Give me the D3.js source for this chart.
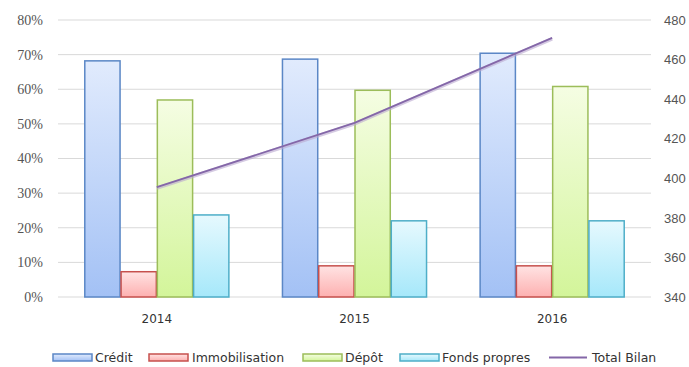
<!DOCTYPE html>
<html>
<head>
<meta charset="utf-8">
<script src="https://cdn.jsdelivr.net/npm/d3@7/dist/d3.min.js"></script>
<style>
  html, body { margin: 0; padding: 0; background: #fff; }
  svg { display: block; }
</style>
</head>
<body>
<svg id="chart" width="689" height="367"></svg>
<script>
// Années et séries (parts en % du bilan) ; Total Bilan sur l'axe de droite
const years = ["2014", "2015", "2016"];
const series = ["Crédit", "Immobilisation", "Dépôt", "Fonds propres"];
const credit = [68.2, 68.7, 70.4];
const immobilisation = [7.3, 9.0, 9.0];
const depot = [56.9, 59.7, 60.8];
const fondsPropres = [23.7, 22.0, 22.0];
const totalBilan = [395.5, 428, 471];
const leftTicks = [0, 10, 20, 30, 40, 50, 60, 70, 80];
const rightTicks = [340, 360, 380, 400, 420, 440, 460, 480];

const seriesValues = [credit, immobilisation, depot, fondsPropres];

const svg = d3.select("#chart");
const plot = { left: 58, right: 651, top: 20, bottom: 297 };

const x0 = d3.scaleBand().domain(years).range([plot.left, plot.right]).padding(0);
const bw = x0.bandwidth();
const x1 = d3.scaleBand().domain(series).range([bw * 0.133, bw * 0.867]).padding(0);
const yL = d3.scaleLinear().domain([0, 80]).range([plot.bottom, plot.top]);
const yR = d3.scaleLinear().domain([340, 480]).range([plot.bottom, plot.top]);

const styles = {
  "Crédit":         { top: "#e1ebfd", bottom: "#a3c1f5", stroke: "#5b87c6" },
  "Immobilisation": { top: "#ffe3e3", bottom: "#fdb0b0", stroke: "#c6504d" },
  "Dépôt":          { top: "#f5fde3", bottom: "#d3f59a", stroke: "#9cbd5a" },
  "Fonds propres":  { top: "#e6f9fe", bottom: "#a6e8fa", stroke: "#4eaec8" }
};

const defs = svg.append("defs");
series.forEach((s, i) => {
  const g = defs.append("linearGradient")
    .attr("id", "grad" + i).attr("x1", 0).attr("y1", 0).attr("x2", 0).attr("y2", 1);
  g.append("stop").attr("offset", "0%").attr("stop-color", styles[s].top);
  g.append("stop").attr("offset", "100%").attr("stop-color", styles[s].bottom);
});

// Grille horizontale
svg.append("g")
  .selectAll("line")
  .data(leftTicks)
  .join("line")
  .attr("x1", plot.left).attr("x2", plot.right)
  .attr("y1", d => yL(d)).attr("y2", d => yL(d))
  .attr("stroke", "#d9d9d9").attr("stroke-width", 1);

// Axe gauche (%)
const axisL = d3.axisLeft(yL).tickValues(leftTicks).tickFormat(d => d + "%").tickSize(0).tickPadding(15);
svg.append("g")
  .attr("transform", `translate(${plot.left},0)`)
  .call(axisL)
  .call(g => g.select(".domain").remove())
  .selectAll("text")
  .attr("font-family", "Liberation Serif, serif")
  .attr("font-size", 14)
  .attr("fill", "#555");

// Axe droit (Total Bilan)
const axisR = d3.axisRight(yR).tickValues(rightTicks).tickSize(0).tickPadding(13);
svg.append("g")
  .attr("transform", `translate(${plot.right},0)`)
  .call(axisR)
  .call(g => g.select(".domain").remove())
  .selectAll("text")
  .attr("font-family", "Liberation Sans, sans-serif")
  .attr("font-size", 13)
  .attr("fill", "#555");

// Axe des années
const axisB = d3.axisBottom(x0).tickSize(0).tickPadding(17);
svg.append("g")
  .attr("transform", `translate(0,${plot.bottom})`)
  .call(axisB)
  .call(g => g.select(".domain").remove())
  .selectAll("text")
  .attr("font-family", "DejaVu Sans, sans-serif")
  .attr("font-size", 12)
  .attr("fill", "#333");

// Barres
const groups = svg.append("g")
  .selectAll("g")
  .data(years)
  .join("g")
  .attr("transform", d => `translate(${x0(d)},0)`);

groups.selectAll("rect")
  .data((yr, yi) => series.map((s, si) => ({ s, si, v: seriesValues[si][yi] })))
  .join("rect")
  .attr("x", d => x1(d.s) + 0.5)
  .attr("y", d => yL(d.v))
  .attr("width", x1.bandwidth() - 1)
  .attr("height", d => plot.bottom - yL(d.v))
  .attr("fill", d => `url(#grad${d.si})`)
  .attr("stroke", d => styles[d.s].stroke)
  .attr("stroke-width", 1.5);

// Courbe Total Bilan
const line = d3.line()
  .x((d, i) => x0(years[i]) + bw / 2)
  .y(d => yR(d));

svg.append("path")
  .datum(totalBilan)
  .attr("d", line)
  .attr("fill", "none")
  .attr("stroke", "#b9a7cf")
  .attr("stroke-width", 3.5)
  .attr("opacity", 0.6)
  .attr("transform", "translate(0,1)");

svg.append("path")
  .datum(totalBilan)
  .attr("d", line)
  .attr("fill", "none")
  .attr("stroke", "#8467a8")
  .attr("stroke-width", 1.8);

// Légende
const legendItems = [
  { label: "Crédit", x: 53, tx: 95, type: "bar", si: 0 },
  { label: "Immobilisation", x: 149, tx: 192, type: "bar", si: 1 },
  { label: "Dépôt", x: 303, tx: 345, type: "bar", si: 2 },
  { label: "Fonds propres", x: 400, tx: 442, type: "bar", si: 3 },
  { label: "Total Bilan", x: 549, tx: 592, type: "line" }
];
const ly = 357.5;
const legend = svg.append("g");
legendItems.forEach(item => {
  if (item.type === "bar") {
    const s = series[item.si];
    legend.append("rect")
      .attr("x", item.x).attr("y", ly - 3.5)
      .attr("width", 39).attr("height", 7)
      .attr("fill", `url(#grad${item.si})`)
      .attr("stroke", styles[s].stroke).attr("stroke-width", 1.5);
  } else {
    legend.append("line")
      .attr("x1", item.x).attr("x2", item.x + 38)
      .attr("y1", ly).attr("y2", ly)
      .attr("stroke", "#8467a8").attr("stroke-width", 1.8);
  }
  legend.append("text")
    .attr("x", item.tx)
    .attr("y", ly)
    .attr("dy", "0.35em")
    .attr("font-family", "DejaVu Sans, sans-serif")
    .attr("font-size", 12.5)
    .attr("fill", "#333")
    .text(item.label);
});
</script>
</body>
</html>
